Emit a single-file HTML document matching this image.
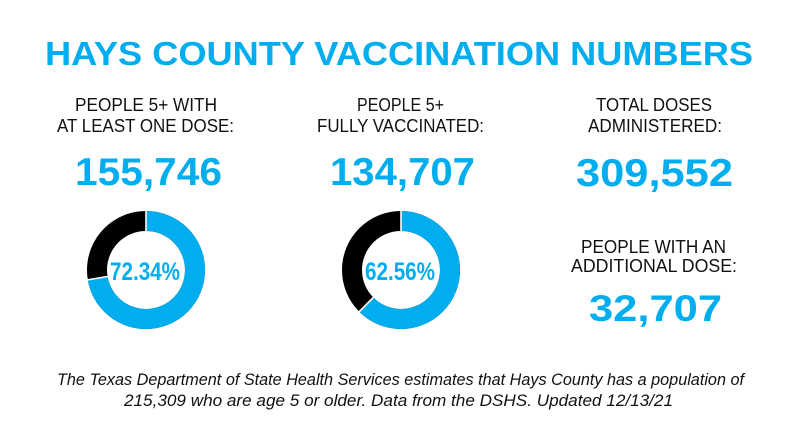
<!DOCTYPE html>
<html>
<head>
<meta charset="utf-8">
<style>
  html,body{margin:0;padding:0;background:#fff;}
  svg{display:block;}
  .t{font-family:"Liberation Sans",sans-serif;}
</style>
</head>
<body>
<svg width="800" height="443" viewBox="0 0 800 443" xmlns="http://www.w3.org/2000/svg">
  <rect width="800" height="443" fill="#fff"/>
  <!-- Title -->
  <text class="t" x="45" y="65" font-size="33" font-weight="bold" fill="#00AEEF" textLength="708" lengthAdjust="spacingAndGlyphs">HAYS COUNTY VACCINATION NUMBERS</text>

  <!-- Labels -->
  <g class="t" font-size="18" fill="#111">
    <text x="75" y="111" textLength="142" lengthAdjust="spacingAndGlyphs">PEOPLE  5+ WITH</text>
    <text x="57" y="132" textLength="177" lengthAdjust="spacingAndGlyphs">AT LEAST ONE DOSE:</text>
    <text x="357" y="111" textLength="87" lengthAdjust="spacingAndGlyphs">PEOPLE 5+</text>
    <text x="317" y="132" textLength="167" lengthAdjust="spacingAndGlyphs">FULLY VACCINATED:</text>
    <text x="596" y="111" textLength="116" lengthAdjust="spacingAndGlyphs">TOTAL DOSES</text>
    <text x="588" y="132" textLength="134" lengthAdjust="spacingAndGlyphs">ADMINISTERED:</text>
    <text x="581" y="253" textLength="145" lengthAdjust="spacingAndGlyphs">PEOPLE WITH AN</text>
    <text x="571" y="272" textLength="166" lengthAdjust="spacingAndGlyphs">ADDITIONAL DOSE:</text>
  </g>

  <!-- Numbers -->
  <g class="t" font-size="39" font-weight="bold" fill="#00AEEF">
    <text x="75" y="185" textLength="147" lengthAdjust="spacingAndGlyphs">155,746</text>
    <text x="330" y="185" textLength="145" lengthAdjust="spacingAndGlyphs">134,707</text>
    <text x="576" y="186" textLength="157" lengthAdjust="spacingAndGlyphs">309,552</text>
    <text x="589" y="321" font-size="37" textLength="133" lengthAdjust="spacingAndGlyphs">32,707</text>
  </g>

  <!-- Donut 1 -->
  <circle cx="146" cy="270" r="49" fill="none" stroke="#000" stroke-width="20"/>
  <circle cx="146" cy="270" r="49" fill="none" stroke="#00AEEF" stroke-width="20"
          stroke-dasharray="222.72 400" transform="rotate(-90 146 270)"/>
  <line x1="146" y1="209" x2="146" y2="233" stroke="#fff" stroke-width="1.6"/>
  <line x1="107.5" y1="276.5" x2="85.8" y2="280.2" stroke="#fff" stroke-width="1.6"/>
  <text class="t" x="110" y="280" font-size="25" font-weight="bold" fill="#00AEEF" textLength="70" lengthAdjust="spacingAndGlyphs">72.34%</text>

  <!-- Donut 2 -->
  <circle cx="401" cy="270" r="49" fill="none" stroke="#000" stroke-width="20"/>
  <circle cx="401" cy="270" r="49" fill="none" stroke="#00AEEF" stroke-width="20"
          stroke-dasharray="192.61 400" transform="rotate(-90 401 270)"/>
  <line x1="401" y1="209" x2="401" y2="233" stroke="#fff" stroke-width="1.6"/>
  <line x1="373.3" y1="297.5" x2="357.4" y2="313.5" stroke="#fff" stroke-width="1.6"/>
  <text class="t" x="365" y="280" font-size="25" font-weight="bold" fill="#00AEEF" textLength="70" lengthAdjust="spacingAndGlyphs">62.56%</text>

  <!-- Footer -->
  <g class="t" font-size="16.5" font-style="italic" fill="#111">
    <text x="57" y="385" textLength="687" lengthAdjust="spacingAndGlyphs">The Texas Department of State Health Services estimates that Hays County has a population of</text>
    <text x="124" y="406" textLength="549" lengthAdjust="spacingAndGlyphs">215,309 who are age 5 or older. Data from the DSHS. Updated 12/13/21</text>
  </g>
</svg>
</body>
</html>
